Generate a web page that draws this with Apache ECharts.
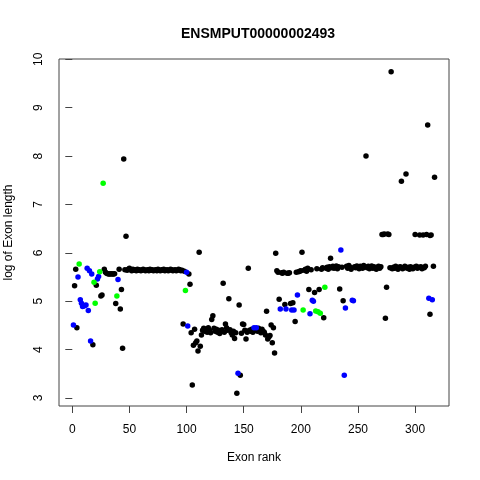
<!DOCTYPE html>
<html>
<head>
<meta charset="utf-8">
<script src="https://cdn.jsdelivr.net/npm/echarts@6/dist/echarts.min.js"></script>
<style>html,body{margin:0;padding:0;background:#fff}#c{width:480px;height:480px}</style>
</head>
<body>
<div id="c"></div>
<script>
// [exon rank, log of exon length]
const blackPts = [
[2,5.32],[3,5.66],[4,4.45],[18,4.10],[21,5.33],[25,5.11],[26,5.13],[28,5.66],[29,5.60],[30,5.58],
[31,5.57],[32,5.56],[33,5.56],[34,5.57],[35,5.56],[36,5.56],[37,5.57],[38,4.95],[41,5.66],[42,4.84],
[43,5.24],[44,4.03],[45,7.94],[46,5.65],[47,6.34],[48,5.64],[49,5.66],[50,5.68],[51,5.65],[52,5.63],
[53,5.66],[54,5.64],[55,5.65],[56,5.63],[57,5.66],[58,5.64],[59,5.65],[60,5.63],[61,5.64],[62,5.66],
[63,5.65],[64,5.63],[65,5.64],[66,5.65],[67,5.63],[68,5.66],[69,5.64],[70,5.65],[71,5.63],[72,5.64],
[73,5.65],[74,5.63],[75,5.66],[76,5.64],[77,5.63],[78,5.65],[79,5.64],[80,5.66],[81,5.63],[82,5.64],
[83,5.65],[84,5.63],[85,5.64],[86,5.66],[87,5.65],[88,5.63],[89,5.64],[90,5.65],[91,5.63],[92,5.64],
[93,5.66],[94,5.65],[95,5.63],[96,5.64],[97,4.53],[98,5.62],[102,5.56],[103,5.35],[104,4.35],[105,3.27],
[106,4.09],[107,4.42],[108,4.14],[109,4.18],[110,3.97],[111,6.01],[112,4.07],[113,4.30],[114,4.40],[115,4.44],
[116,4.38],[117,4.42],[118,4.36],[119,4.45],[120,4.40],[121,4.35],[122,4.62],[123,4.70],[124,4.44],[125,4.38],
[126,4.42],[127,4.36],[128,4.40],[129,4.33],[130,4.38],[131,4.41],[132,5.37],[133,4.36],[134,4.53],[135,4.45],
[136,4.40],[137,5.05],[138,4.41],[139,4.35],[140,4.30],[141,4.38],[142,4.23],[143,4.35],[144,3.10],[146,4.92],
[147,3.47],[148,4.34],[149,4.53],[150,4.52],[151,4.40],[152,4.22],[153,4.36],[154,5.68],[155,4.40],[156,4.38],
[157,4.42],[158,4.36],[160,4.40],[162,4.38],[163,4.44],[164,4.40],[165,4.35],[166,4.42],[167,4.38],[168,4.36],
[169,4.30],[170,4.79],[171,4.22],[172,4.26],[173,4.29],[174,4.51],[175,4.14],[176,4.45],[177,3.93],[178,5.99],
[179,5.63],[180,5.60],[181,5.04],[183,5.59],[184,5.58],[185,5.60],[186,4.93],[188,5.58],[189,5.58],[190,5.59],
[191,4.95],[193,4.97],[195,4.58],[196,5.60],[198,5.61],[199,5.62],[200,5.63],[201,6.01],[203,5.64],[204,5.66],
[205,5.62],[206,5.68],[207,5.24],[209,5.65],[212,5.18],[214,5.67],[216,5.24],[218,5.66],[219,5.69],[220,4.66],
[222,5.68],[223,5.70],[224,5.66],[225,5.71],[226,5.89],[227,5.69],[228,5.72],[229,5.68],[230,5.70],[231,5.73],
[232,5.67],[233,5.71],[234,5.25],[236,5.70],[237,5.01],[240,5.72],[241,5.68],[242,5.74],[243,5.70],[244,5.66],
[247,5.71],[248,5.69],[249,5.73],[250,5.70],[251,5.67],[252,5.72],[253,5.70],[254,5.68],[255,5.74],[256,5.71],
[257,8.00],[258,5.69],[259,5.72],[260,5.67],[261,5.70],[262,5.73],[263,5.68],[264,5.71],[265,5.69],[266,5.66],
[267,5.70],[268,5.72],[269,5.68],[270,5.71],[271,6.38],[272,6.38],[273,6.39],[274,4.65],[275,5.29],[276,6.39],
[277,6.38],[278,5.69],[279,9.74],[280,5.67],[281,5.70],[282,5.68],[283,5.72],[284,5.69],[285,5.66],[286,5.70],
[287,5.71],[288,7.48],[289,5.67],[290,5.69],[291,5.72],[292,7.63],[293,5.68],[294,5.70],[295,5.66],[296,5.71],
[297,5.69],[298,5.67],[299,5.70],[300,6.38],[301,5.72],[302,5.68],[303,5.70],[304,6.37],[305,5.71],[306,5.67],
[307,6.37],[308,5.69],[309,5.72],[310,6.38],[311,8.64],[313,6.36],[314,6.37],[313,4.73],[316,5.72],[317,7.56]
];
const bluePts = [
[1,4.51],[5,5.50],[7,5.03],[8,4.96],[9,4.89],[10,4.90],[11,4.91],[12,4.92],[13,5.68],[14,4.81],
[15,5.63],[16,4.18],[17,5.56],[22,5.46],[23,5.51],[40,5.45],[100,5.60],[101,4.49],[145,3.51],[159,4.45],
[161,4.45],[182,4.84],[187,4.84],[192,4.82],[194,4.82],[197,5.13],[208,4.74],[210,5.02],[211,5.00],[235,6.06],
[238,3.47],[239,4.86],[245,5.02],[246,5.01],[312,5.06],[315,5.03]
];
const greenPts = [
[6,5.77],[19,5.39],[20,4.96],[24,5.61],[27,7.44],[39,5.11],[99,5.22],[202,4.82],[213,4.80],[215,4.78],
[217,4.75],[221,5.29]
];
const xTicks = [0, 50, 100, 150, 200, 250, 300];
const yTicks = [3, 4, 5, 6, 7, 8, 9, 10];

const FONT = 'Liberation Sans, Arial, Helvetica, sans-serif';
const chart = echarts.init(document.getElementById('c'), null, {renderer: 'canvas'});
const mk = (data, color) => ({
  type: 'scatter', data: data, symbol: 'circle', symbolSize: 5.5,
  itemStyle: {color: color, opacity: 1}, silent: true
});
chart.setOption({
  animation: false,
  backgroundColor: '#ffffff',
  title: {
    text: 'ENSMPUT00000002493', left: 176, top: 22,
    textStyle: {fontFamily: FONT, fontSize: 14, fontWeight: 'bold', color: '#000'}
  },
  grid: {left: 59, top: 59, width: 390, height: 347, show: true, borderColor: '#444', borderWidth: 1,
         backgroundColor: 'transparent', containLabel: false, outerBoundsMode: 'none'},
  xAxis: {
    type: 'value', min: -11.64, max: 329.64,
    name: 'Exon rank', nameLocation: 'middle', nameGap: 46,
    nameTextStyle: {fontFamily: FONT, fontSize: 12, color: '#000'},
    axisLine: {show: false},
    splitLine: {show: false},
    axisTick: {show: true, inside: false, length: 7, customValues: xTicks, lineStyle: {color: '#444'}},
    axisLabel: {customValues: xTicks, margin: 18, fontFamily: FONT, fontSize: 12, color: '#000'}
  },
  yAxis: {
    type: 'value', min: 2.834, max: 10.006,
    name: 'log of Exon length', nameLocation: 'middle', nameGap: 44,
    nameTextStyle: {fontFamily: FONT, fontSize: 12, color: '#000'},
    axisLine: {show: false},
    splitLine: {show: false},
    axisTick: {show: true, inside: false, length: 7, customValues: yTicks, lineStyle: {color: '#444'}},
    axisLabel: {customValues: yTicks, rotate: 90, margin: 14, fontFamily: FONT, fontSize: 12, color: '#000'}
  },
  series: [mk(blackPts, '#000000'), mk(bluePts, '#0000FF'), mk(greenPts, '#00FF00')]
});
</script>
</body>
</html>
